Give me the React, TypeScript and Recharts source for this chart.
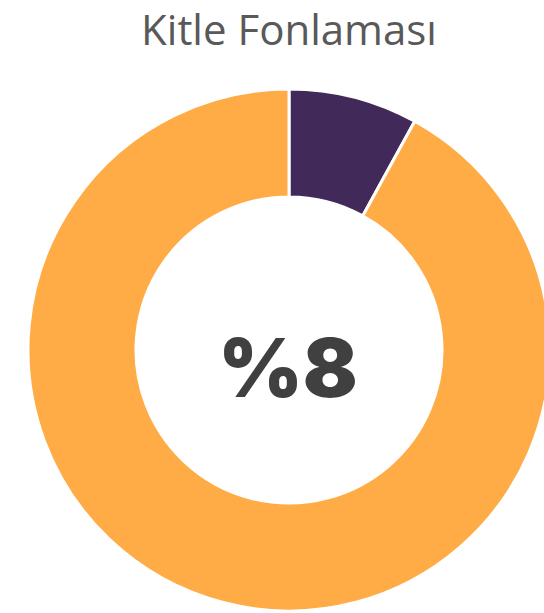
import React from "react"
import { PieChart, Pie, Cell } from "recharts"

const title = "Kitle Fonlaması"
const segments = ["Kitle Fonlaması", "Diğer"]
const values = [8, 92]
const colors = ["#41295A", "#FFAC46"]
const centerLabel = "%8"

const data = segments.map((name, i) => ({ name, value: values[i] }))

export default function App() {
  return (
    <div style={{ position: "absolute", left: 0, top: 0, width: 544, height: 613, background: "#fff", overflow: "hidden" }}>
      <PieChart
        width={544}
        height={613}
        margin={{ top: 0, right: 0, bottom: 0, left: 0 }}
        style={{ position: "absolute", left: 0, top: 0 }}
      >
        <Pie
          data={data}
          dataKey="value"
          nameKey="name"
          cx={289}
          cy={350}
          innerRadius={153}
          outerRadius={261}
          startAngle={90}
          endAngle={-270}
          stroke="#fff"
          strokeWidth={3}
          isAnimationActive={false}
        >
          {data.map((d, i) => (
            <Cell key={d.name} fill={colors[i]} />
          ))}
        </Pie>
      </PieChart>
      <div
        style={{
          position: "absolute",
          left: 0,
          top: 0,
          width: 578,
          textAlign: "center",
          fontFamily: "'Open Sans', sans-serif",
          fontSize: 42,
          lineHeight: "58px",
          color: "#595959",
          whiteSpace: "nowrap",
        }}
      >
        {title}
      </div>
      <div
        style={{
          position: "absolute",
          left: 0,
          top: 318,
          width: 576,
          textAlign: "center",
          fontFamily: "Inter, sans-serif",
          fontWeight: 900,
          fontSize: 81,
          lineHeight: "100px",
          color: "#404040",
          whiteSpace: "nowrap",
        }}
      >
        {centerLabel}
      </div>
    </div>
  )
}
